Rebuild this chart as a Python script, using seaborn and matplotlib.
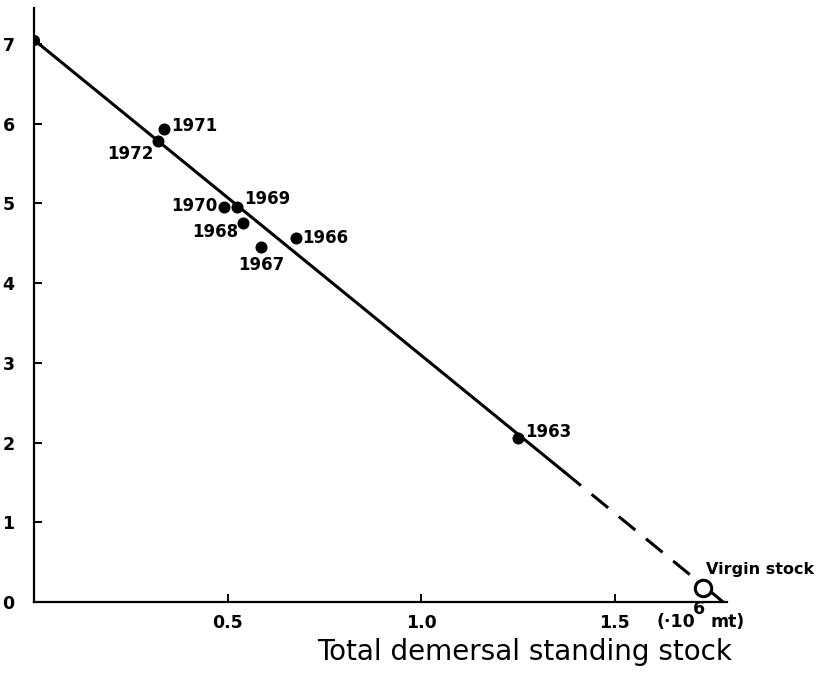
import matplotlib
matplotlib.use("Agg")
import matplotlib.pyplot as plt
import seaborn as sns
import pandas as pd

# Catch-per-effort against total demersal standing stock, by year
years = ["1972", "1971", "1970", "1969", "1968", "1967", "1966", "1963"]
stock = [0.319, 0.336, 0.491, 0.524, 0.541, 0.587, 0.676, 1.251]
cpue = [5.78, 5.93, 4.95, 4.95, 4.75, 4.45, 4.56, 2.06]

# Estimated virgin stock (open circle)
virgin_stock = [1.729]
virgin_cpue = [0.17]

# Fitted line: solid over the observed range, dashed extrapolation, short solid tail
fit_solid_x = [0.0, 1.37]
fit_solid_y = [7.05, 1.63]
fit_dash_x = [1.37, 1.73]
fit_dash_y = [1.63, 0.20]
fit_tail_x = [1.73, 1.78]
fit_tail_y = [0.20, 0.0]

x_ticks = [0.5, 1.0, 1.5]
x_tick_labels = ["0.5", "1.0", "1.5"]
y_ticks = [0, 1, 2, 3, 4, 5, 6, 7]

# label offsets in points (dx, dy) and alignment per year
label_style = {
    "1972": (-3, -9, "right", "center"),
    "1971": (5, 2, "left", "center"),
    "1970": (-5, 1, "right", "center"),
    "1969": (5, 6, "left", "center"),
    "1968": (-4, -6, "right", "center"),
    "1967": (0, -13, "center", "center"),
    "1966": (5, 0, "left", "center"),
    "1963": (5, 4, "left", "center"),
}

sns.set_theme(style="ticks")
plt.rcParams["font.family"] = ["DejaVu Sans"]
plt.rcParams["text.color"] = "black"
plt.rcParams["xtick.color"] = "black"
plt.rcParams["ytick.color"] = "black"

fig = plt.figure(figsize=(8.19, 6.74), dpi=100)
ax = fig.add_axes([34 / 819, 1 - 602 / 674, 693 / 819, (602 - 8) / 674])

pts = pd.DataFrame({"year": years, "stock": stock, "cpue": cpue})

sns.lineplot(x=fit_solid_x, y=fit_solid_y, ax=ax, color="black", lw=2.2)
sns.lineplot(x=fit_dash_x, y=fit_dash_y, ax=ax, color="black", lw=2.2,
             linestyle=(0, (7, 4.5)))
sns.lineplot(x=fit_tail_x, y=fit_tail_y, ax=ax, color="black", lw=2.2)

sns.scatterplot(data=pts, x="stock", y="cpue", ax=ax, color="black",
                s=75, edgecolor="black", linewidth=0, zorder=5)
sns.scatterplot(x=virgin_stock, y=virgin_cpue, ax=ax, s=140,
                facecolor="white", edgecolor="black", linewidth=2.2, zorder=6)
# start of the line on the vertical axis
ax.plot([0.0], [fit_solid_y[0]], "o", color="black", ms=7, clip_on=True, zorder=5)

for yr, xv, yv in zip(years, stock, cpue):
    dx, dy, ha, va = label_style[yr]
    ax.annotate(yr, (xv, yv), xytext=(dx, dy), textcoords="offset points",
                ha=ha, va=va, fontsize=12, fontweight="bold", color="black")

ax.annotate("Virgin stock", (virgin_stock[0], virgin_cpue[0]), xytext=(2, 14),
            textcoords="offset points", ha="left", va="center",
            fontsize=11.5, fontweight="bold", color="black")

ax.set_xlim(0, 1.79)
ax.set_ylim(0, 7.45)
ax.set_xticks(x_ticks)
ax.set_xticklabels(x_tick_labels)
ax.set_yticks(y_ticks)
ax.tick_params(axis="both", direction="in", length=6, width=1.4, colors="black",
               labelsize=12.5, pad=9)
for lab in ax.get_xticklabels() + ax.get_yticklabels():
    lab.set_fontweight("bold")
ax.tick_params(axis="y", pad=14)

sns.despine(ax=ax)
for side in ("left", "bottom"):
    ax.spines[side].set_linewidth(1.6)
    ax.spines[side].set_color("black")

ax.set_xlabel("")
ax.set_ylabel("")
fig.text(657 / 819, 1 - 622 / 674, "(·10", ha="left", va="center",
         fontsize=12.5, fontweight="bold", color="black")
fig.text(693 / 819, 1 - 609 / 674, "6", ha="left", va="center",
         fontsize=12.5, fontweight="bold", color="black")
fig.text(710 / 819, 1 - 622 / 674, "mt)", ha="left", va="center",
         fontsize=12.5, fontweight="bold", color="black")
fig.text(525 / 819, 1 - 652 / 674, "Total demersal standing stock", ha="center",
         va="center", fontsize=20, color="black")

fig.savefig("out.png", dpi=100, facecolor="white")
